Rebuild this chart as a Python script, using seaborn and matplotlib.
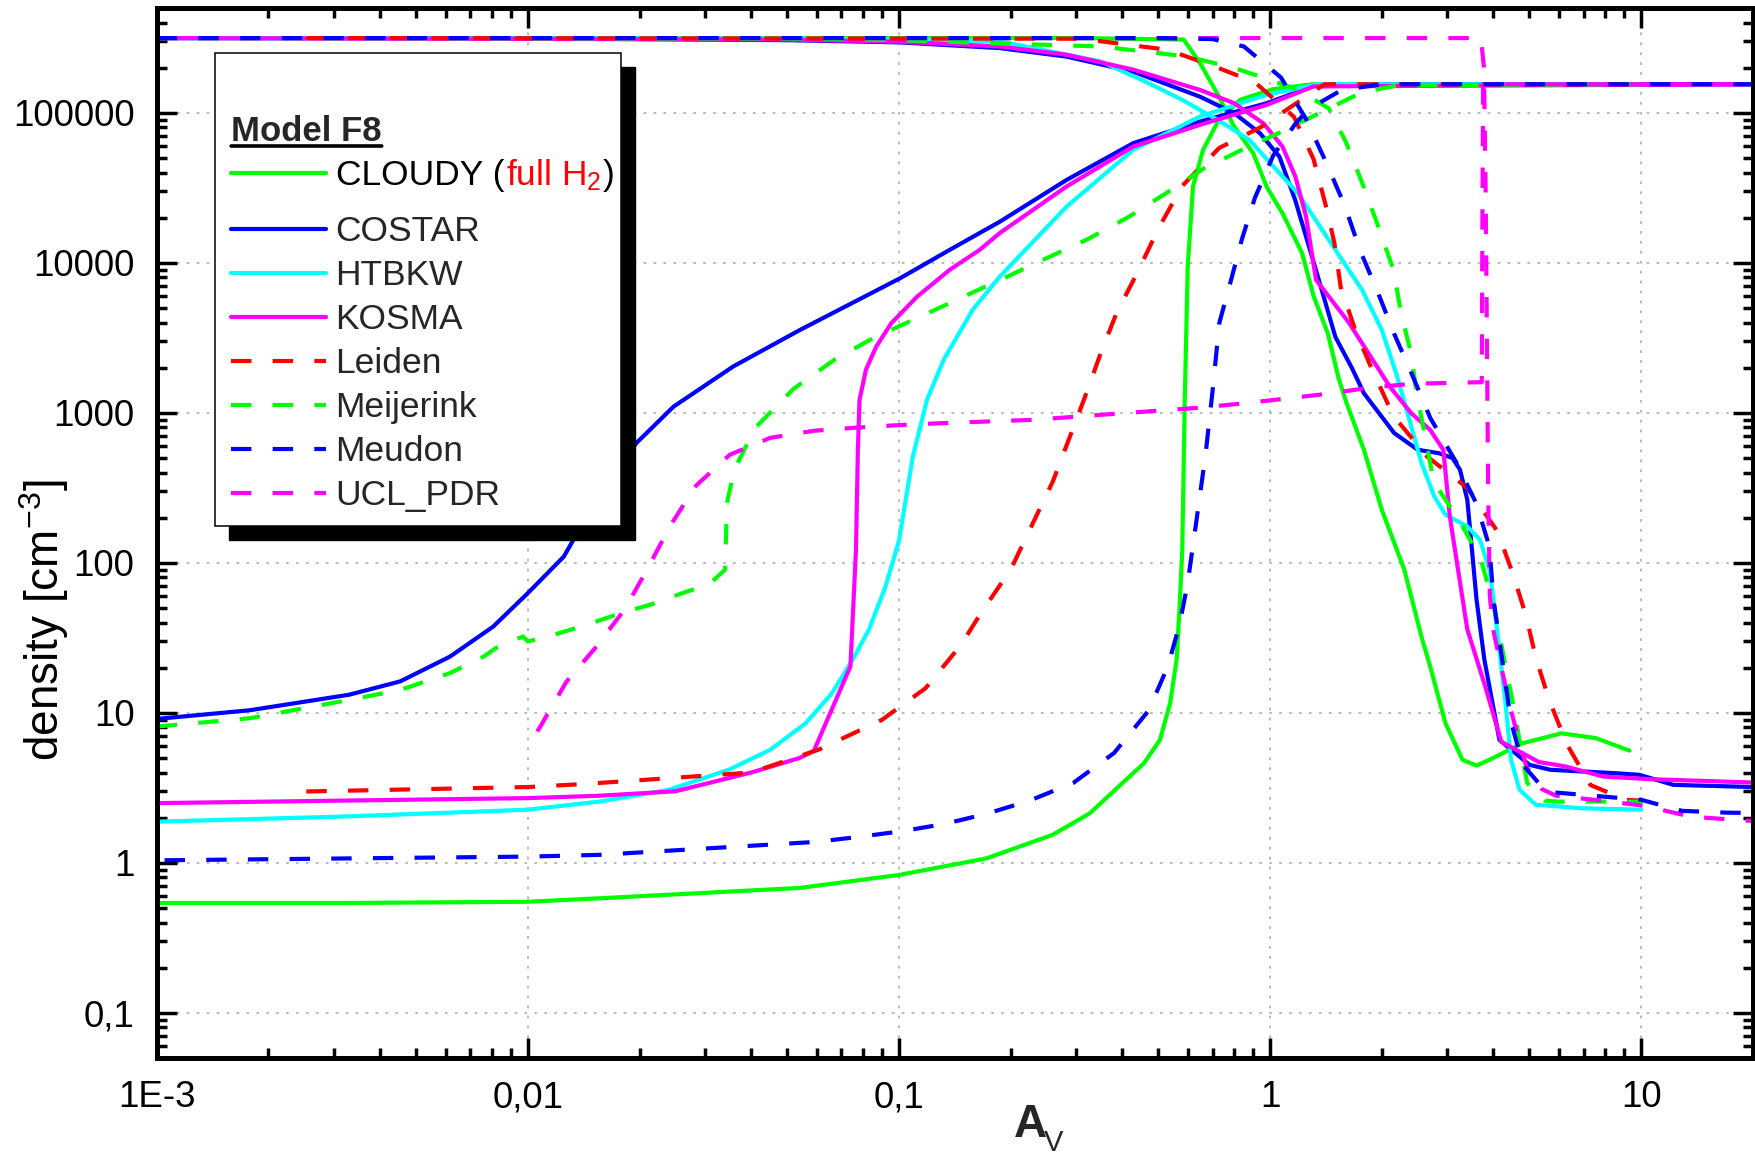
import numpy as np
import matplotlib
matplotlib.use("Agg")
import matplotlib.pyplot as plt
import matplotlib.transforms as mtransforms
from matplotlib.patches import Rectangle
from matplotlib.offsetbox import DrawingArea
from matplotlib.ticker import FixedLocator, FixedFormatter, LogLocator, NullFormatter
import seaborn as sns

# ---- data: A_V and density for each code (H2 rising, H falling) ----
CLOUDY_H2_AV = [0.001, 0.0033, 0.01, 0.0156, 0.054, 0.1, 0.172, 0.26, 0.327, 0.40, 0.457, 0.505,
                0.538, 0.56, 0.57, 0.58, 0.589, 0.60, 0.62, 0.66, 0.72, 0.83, 1.02, 1.3, 9.3]
CLOUDY_H2_N = [0.54, 0.54, 0.55, 0.58, 0.68, 0.83, 1.07, 1.54, 2.14, 3.4, 4.6, 6.6,
               11.6, 22.6, 48.6, 122, 1220, 9450, 32300, 56700, 85300, 1.22e5, 1.44e5, 1.55e5, 1.55e5]
CLOUDY_H_AV = [0.001, 0.3, 0.585, 0.648, 0.72, 0.80, 0.90, 0.98, 1.08, 1.22, 1.31, 1.43, 1.53, 1.6,
               1.79, 2.0, 2.3, 2.56, 2.7, 2.97, 3.3, 3.6, 3.9, 4.8, 6.1, 7.55, 9.3]
CLOUDY_H_N = [3.15e5, 3.15e5, 3.08e5, 2.14e5, 1.35e5, 8.1e4, 5.4e4, 3.2e4, 2.14e4, 1.16e4, 6000, 3400,
              1700, 1200, 567, 226, 90, 32, 20.4, 8.5, 4.86, 4.45, 4.86, 6.28, 7.3, 6.78, 5.6]

COSTAR_H2_AV = [0.001, 0.00178, 0.0033, 0.00453, 0.00617, 0.00807, 0.01, 0.0125, 0.016, 0.0196,
                0.0247, 0.0358, 0.0542, 0.1008, 0.137, 0.187, 0.283, 0.428, 0.648, 0.98, 1.31, 2.0, 20]
COSTAR_H2_N = [9.1, 10.4, 13.2, 16.2, 23.7, 37.6, 62.8, 110, 320, 628,
               1100, 2040, 3575, 7900, 12200, 18800, 35700, 62800, 87500, 1.16e5, 1.51e5, 1.55e5, 1.55e5]
COSTAR_H_AV = [0.001, 0.01, 0.05, 0.1, 0.187, 0.283, 0.428, 0.648, 0.80, 0.94, 1.06, 1.17, 1.32,
               1.5, 1.66, 1.79, 2.16, 2.5, 2.85, 3.1, 3.25, 3.4, 3.5, 3.6, 3.78, 4.15, 5.0, 5.7,
               8.5, 9.9, 12.2, 20]
COSTAR_H_N = [3.15e5, 3.14e5, 3.05e5, 2.95e5, 2.7e5, 2.37e5, 1.88e5, 1.28e5, 9.96e4, 7.3e4, 5.1e4,
              2.6e4, 9500, 3200, 2000, 1350, 733, 567, 538, 500, 417, 263, 122, 57, 22.6, 6.6, 4.5,
              4.17, 3.96, 3.86, 3.31, 3.2]

HTBKW_H2_AV = [0.001, 0.0033, 0.01, 0.0156, 0.024, 0.035, 0.045, 0.056, 0.066, 0.075, 0.083, 0.092,
               0.1, 0.109, 0.119, 0.132, 0.158, 0.187, 0.283, 0.428, 0.648, 0.98, 1.35, 10]
HTBKW_H2_N = [1.88, 2.04, 2.26, 2.56, 3.07, 4.2, 5.67, 8.5, 13.5, 22.6, 35.8, 69.5,
              140, 511, 1220, 2260, 4860, 8100, 23700, 56700, 94500, 1.32e5, 1.55e5, 1.55e5]
HTBKW_H_AV = [0.001, 0.05, 0.1, 0.187, 0.35, 0.47, 0.58, 0.72, 0.88, 1.02, 1.19, 1.5, 1.77, 2.0,
              2.2, 2.4, 2.56, 2.77, 2.97, 3.4, 3.68, 3.9, 4.0, 4.3, 4.46, 4.7, 5.2, 6.9, 10]
HTBKW_H_N = [3.15e5, 3.13e5, 3.08e5, 3.0e5, 2.2e5, 1.58e5, 1.22e5, 9.0e4, 6.6e4, 4.4e4, 2.9e4,
             1.22e4, 6600, 3575, 1750, 811, 462, 277, 209, 175, 142, 90, 57, 12.2, 4.86, 3.07,
             2.44, 2.31, 2.26]

KOSMA_H2_AV = [0.001, 0.01, 0.0156, 0.025, 0.04, 0.054, 0.059, 0.074, 0.0766, 0.0775, 0.0783,
               0.0815, 0.0869, 0.0954, 0.112, 0.137, 0.165, 0.187, 0.283, 0.428, 0.648, 0.98, 1.31, 20]
KOSMA_H2_N = [2.5, 2.7, 2.8, 3.0, 4.0, 5.0, 5.58, 20.4, 122, 567, 1220,
              1940, 2770, 3960, 5960, 8980, 12200, 15800, 32300, 59600, 83200, 1.13e5, 1.5e5, 1.55e5]
KOSMA_H_AV = [0.001, 0.05, 0.1, 0.187, 0.283, 0.428, 0.648, 0.80, 0.96, 1.08, 1.17, 1.25, 1.33,
              1.63, 2.1, 2.4, 2.7, 2.93, 3.05, 3.4, 3.8, 4.2, 5.3, 6.25, 7.9, 10.6, 20]
KOSMA_H_N = [3.15e5, 3.08e5, 2.98e5, 2.77e5, 2.44e5, 1.94e5, 1.42e5, 1.16e5, 8.5e4, 5.96e4,
             3.76e4, 2.04e4, 7700, 4000, 1500, 995, 770, 567, 204, 36, 15, 6.4, 4.7, 4.39,
             3.76, 3.61, 3.43]

LEIDEN_H2_AV = [0.00253, 0.01, 0.0141, 0.04, 0.061, 0.09, 0.118, 0.147, 0.167, 0.2, 0.26, 0.315,
                0.35, 0.386, 0.44, 0.5, 0.58, 0.73, 0.94, 1.19, 1.4, 10]
LEIDEN_H2_N = [2.99, 3.2, 3.35, 4.0, 5.7, 8.98, 14.6, 28.4, 47, 90, 350, 1220,
               2510, 4640, 8700, 16900, 32600, 58400, 79800, 1.18e5, 1.55e5, 1.55e5]
LEIDEN_H_AV = [0.00253, 0.3, 0.35, 0.53, 0.7, 0.91, 1.16, 1.31, 1.42, 1.49, 1.55, 1.7, 1.9, 2.15,
               2.65, 3.4, 4.1, 4.5, 4.9, 5.2, 5.65, 6.3, 7.3, 9.1, 9.9]
LEIDEN_H_N = [3.15e5, 3.12e5, 3.0e5, 2.63e5, 2.06e5, 1.6e5, 9.4e4, 4.9e4, 2.3e4, 1.36e4, 6900,
              3500, 1850, 955, 511, 316, 162, 86, 44, 23.3, 12.2, 6.2, 3.3, 2.63, 2.6]

MEIJERINK_H2_AV = [0.001, 0.00178, 0.0033, 0.00453, 0.00617, 0.0076, 0.0082, 0.0097, 0.01, 0.0115,
                   0.0144, 0.0177, 0.0216, 0.0262, 0.0308, 0.034, 0.0344, 0.036, 0.041, 0.052,
                   0.067, 0.086, 0.114, 0.148, 0.194, 0.245, 0.323, 0.414, 0.527, 0.66, 0.86,
                   1.09, 1.44, 1.77, 2.2, 10.1]
MEIJERINK_H2_N = [8.1, 9.2, 12.2, 14.2, 18.4, 23.7, 27, 32.3, 29.9, 32.6,
                  38.6, 46, 53, 63, 72, 90, 250, 417, 795, 1445,
                  2260, 3190, 4370, 5890, 8000, 10500, 14400, 20100, 29300, 42300, 58400,
                  75900, 1.07e5, 1.37e5, 1.52e5, 1.55e5]
MEIJERINK_H_AV = [0.001, 0.05, 0.1, 0.187, 0.35, 0.46, 0.6, 0.8, 1.0, 1.19, 1.44, 1.6, 1.78, 1.95,
                  2.15, 2.25, 2.4, 2.49, 2.63, 2.76, 3.25, 3.7, 4.0, 4.5, 4.93, 5.5, 5.9, 7.8, 10.1]
MEIJERINK_H_N = [3.15e5, 3.12e5, 3.05e5, 2.9e5, 2.77e5, 2.56e5, 2.37e5, 1.99e5, 1.66e5, 1.42e5,
                 1.07e5, 6.4e4, 3.3e4, 1.79e4, 9000, 4730, 2470, 1285, 660, 347, 188, 105, 52.5,
                 12, 3.4, 2.6, 2.56, 2.56, 2.55]

MEUDON_H2_AV = [0.00105, 0.01, 0.0156, 0.06, 0.078, 0.103, 0.133, 0.172, 0.225, 0.295, 0.38, 0.47,
                0.53, 0.57, 0.6, 0.63, 0.67, 0.70, 0.73, 0.78, 0.84, 0.91, 1.02, 1.17, 1.27, 1.56,
                2.0, 20]
MEUDON_H2_N = [1.04, 1.1, 1.13, 1.38, 1.49, 1.63, 1.82, 2.12, 2.6, 3.41, 5.4, 10.3,
               20.3, 38.6, 73.6, 174, 525, 1400, 3980, 7240, 14400, 27100, 52000, 84500, 1.06e5,
               1.42e5, 1.55e5, 1.55e5]
MEUDON_H_AV = [0.001, 0.5, 0.70, 0.85, 1.07, 1.25, 1.42, 1.59, 1.75, 1.94, 2.16, 2.42, 2.7, 3.17,
               3.6, 3.9, 4.0, 4.46, 4.8, 5.5, 5.8, 7.7, 10, 12.9, 17, 20]
MEUDON_H_N = [3.15e5, 3.15e5, 3.1e5, 2.77e5, 1.72e5, 9.1e4, 4.6e4, 2.4e4, 12000, 6600, 3360, 1770,
              927, 471, 247, 128, 57, 8.7, 4.5, 3.05, 2.95, 2.78, 2.63, 2.22, 2.16, 2.15]

UCL_H2_AV = [0.0106, 0.0109, 0.0127, 0.0152, 0.0182, 0.021, 0.0242, 0.0284, 0.035, 0.045, 0.059,
             0.077, 0.1, 0.13, 0.23, 0.35, 0.64, 0.83, 1.09, 1.43, 1.85, 2.4, 3.1, 3.72, 3.73,
             3.75, 20]
UCL_H2_N = [7.5, 8.4, 16.1, 27.1, 48.6, 91, 177, 327, 525, 681, 759,
            797, 828, 853, 898, 970, 1080, 1150, 1240, 1340, 1470, 1560, 1585, 1600, 1e4,
            1.55e5, 1.55e5]
UCL_H_AV = [0.001, 3.7, 3.77, 3.81, 3.84, 3.87, 3.91, 4.0, 4.2, 4.45, 4.9, 5.4, 5.9, 7.8, 10.2,
            13.6, 17.7, 20]
UCL_H_N = [3.15e5, 3.15e5, 2.0e5, 3e4, 3000, 300, 60, 35, 20, 10.5, 4.4, 3.1, 2.8, 2.6, 2.4,
           2.03, 1.94, 1.9]

MODELS = ["CLOUDY", "COSTAR", "HTBKW", "KOSMA", "Leiden", "Meijerink", "Meudon", "UCL_PDR"]
COLORS = ["#00FF00", "#0000FF", "#00FFFF", "#FF00FF", "#FF0000", "#00FF00", "#0000FF", "#FF00FF"]
DASHED = [False, False, False, False, True, True, True, True]
CURVES = [
    [(CLOUDY_H2_AV, CLOUDY_H2_N), (CLOUDY_H_AV, CLOUDY_H_N)],
    [(COSTAR_H2_AV, COSTAR_H2_N), (COSTAR_H_AV, COSTAR_H_N)],
    [(HTBKW_H2_AV, HTBKW_H2_N), (HTBKW_H_AV, HTBKW_H_N)],
    [(KOSMA_H2_AV, KOSMA_H2_N), (KOSMA_H_AV, KOSMA_H_N)],
    [(LEIDEN_H2_AV, LEIDEN_H2_N), (LEIDEN_H_AV, LEIDEN_H_N)],
    [(MEIJERINK_H2_AV, MEIJERINK_H2_N), (MEIJERINK_H_AV, MEIJERINK_H_N)],
    [(MEUDON_H2_AV, MEUDON_H2_N), (MEUDON_H_AV, MEUDON_H_N)],
    [(UCL_H2_AV, UCL_H2_N), (UCL_H_AV, UCL_H_N)],
]
DRAW_ORDER = [0, 1, 2, 3, 4, 5, 7, 6]

X_TICKS = [1e-3, 1e-2, 1e-1, 1, 10]
X_TICK_LABELS = ["1E-3", "0,01", "0,1", "1", "10"]
Y_TICKS = [0.1, 1, 10, 100, 1000, 10000, 100000]
Y_TICK_LABELS = ["0,1", "1", "10", "100", "1000", "10000", "100000"]

# ---- style ----
sns.set_theme(style="ticks")
plt.rcParams["font.family"] = ["Liberation Sans", "DejaVu Sans"]
plt.rcParams["mathtext.fontset"] = "custom"
plt.rcParams["mathtext.rm"] = "Liberation Sans"
plt.rcParams["mathtext.it"] = "Liberation Sans:italic"
plt.rcParams["mathtext.bf"] = "Liberation Sans:bold"

fig = plt.figure(figsize=(17.55, 11.56), dpi=100)
ax = fig.add_axes([0.0893, 0.0848, 0.9095, 0.9083])
ax.set_xscale("log")
ax.set_yscale("log")

LW = 3.0
handles = {}
for i in DRAW_ORDER:
    ls = (0, (4.9, 5.1)) if DASHED[i] else "-"
    for av, n in CURVES[i]:
        sns.lineplot(x=np.array(av, dtype=float), y=np.array(n, dtype=float), ax=ax,
                     color=COLORS[i], linestyle=ls, linewidth=LW, sort=False,
                     estimator=None, legend=False)
        handles.setdefault(i, ax.lines[-1])

ax.set_xlim(1e-3, 20)
ax.set_ylim(0.05, 5e5)

ax.xaxis.set_major_locator(FixedLocator(X_TICKS))
ax.xaxis.set_major_formatter(FixedFormatter(X_TICK_LABELS))
ax.yaxis.set_major_locator(FixedLocator(Y_TICKS))
ax.yaxis.set_major_formatter(FixedFormatter(Y_TICK_LABELS))
for axis in (ax.xaxis, ax.yaxis):
    axis.set_minor_locator(LogLocator(base=10, subs=np.arange(2, 10) * 1.0, numticks=60))
    axis.set_minor_formatter(NullFormatter())

ax.tick_params(which="both", direction="in", top=True, right=True, color="black",
               labelcolor="black")
ax.tick_params(which="major", length=14.5, width=2.5, pad=16, labelsize=26.5)
ax.tick_params(which="minor", length=7.5, width=2.5)
for s in ax.spines.values():
    s.set_linewidth(3.6)
    s.set_color("black")

ax.set_axisbelow(True)
ax.grid(True, which="major", color="#b4b4b4", linestyle=(0, (1.5, 4)), linewidth=1.3)
ax.grid(False, which="minor")

ax.set_ylabel("density [cm$^{-3}$]", fontsize=33, color="black")
ax.yaxis.set_label_coords(-0.054, 0.417)
fig.text(0.5778, 0.0162, "A", fontsize=33, fontweight="bold", ha="left", va="baseline")
fig.text(0.5950, 0.0040, "V", fontsize=21, ha="left", va="baseline")

# ---- legend with box and hard shadow ----
ax.add_patch(Rectangle((0.0453, 0.4929), 0.2544, 0.4508, transform=ax.transAxes,
                       facecolor="black", edgecolor="black", zorder=4.8, clip_on=False))
ax.add_patch(Rectangle((0.0365, 0.5067), 0.2544, 0.4508, transform=ax.transAxes,
                       facecolor="white", edgecolor="black", linewidth=1.1, zorder=4.9,
                       clip_on=False))

labels = [""] + MODELS[1:]
leg = ax.legend([handles[i] for i in range(8)], labels, loc="upper left",
                bbox_to_anchor=(0.0466, 0.8981), bbox_transform=ax.transAxes,
                frameon=False, borderpad=0, borderaxespad=0, fontsize=25.5,
                title="Model F8", title_fontproperties={"weight": "bold", "size": 25},
                alignment="left", handlelength=2.68, handletextpad=0.27, labelspacing=0.31)

# a little extra room below the CLOUDY entry (its label carries a subscript)
leg._legend_handle_box.get_children()[0].get_children().insert(1, DrawingArea(1, 1.1))

fig.canvas.draw()
renderer = fig.canvas.get_renderer()

# CLOUDY label written in pieces so that "full H2" can be red
t0 = leg.get_texts()[0]
offset = 0.0
for s, c in [("CLOUDY (", "black"), ("full H$_2$", "red"), (")", "black")]:
    t = ax.text(0, 0, s, color=c, fontsize=25.5, ha="left", va="baseline", zorder=6,
                clip_on=False)
    t.set_transform(t0.get_transform() + mtransforms.Affine2D().translate(offset, 0))
    offset += t.get_window_extent(renderer).width + 1.5

# underline the legend title
ax.annotate("", xy=(1, 0.06), xycoords=leg.get_title(), xytext=(0, 0.06),
            textcoords=leg.get_title(),
            arrowprops=dict(arrowstyle="-", lw=2.6, color="black", shrinkA=0, shrinkB=0),
            zorder=6)

fig.savefig("out.png", dpi=100)
